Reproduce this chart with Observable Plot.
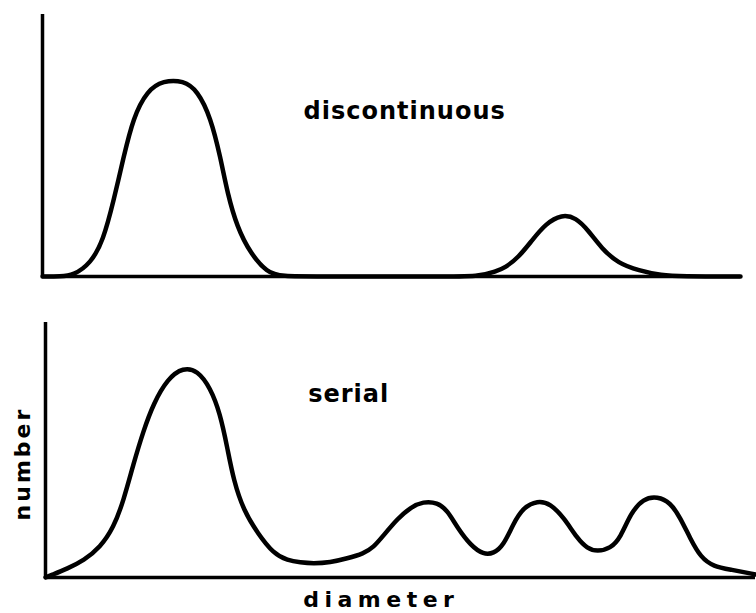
<!DOCTYPE html>
<html>
<head>
<meta charset="utf-8">
<script src="https://cdn.jsdelivr.net/npm/d3@7"></script>
<script src="https://cdn.jsdelivr.net/npm/@observablehq/plot@0.6"></script>
<style>
  html, body { margin: 0; padding: 0; background: #fff; }
  #chart { width: 756px; height: 613px; }
  #chart svg { display: block; }
</style>
</head>
<body>
<div id="chart"></div>
<script>
// Schematic size distributions (diameter and number in arbitrary units 0–100)
const discDiameter = [0, 2.6, 4.4, 6.9, 8.7, 10.2, 11.6, 13.0, 15.0, 17.3, 20.2, 22.2, 24.1, 25.5, 26.5, 27.9, 29.8, 32.2, 34.1,
  40, 48, 56, 62.8, 64.9, 66.3, 68.2, 70.1, 72.1, 74.4, 76.4, 78.2, 80.1, 82.5, 85.4, 88.7, 91.4, 100];
const discNumber = [0, 0, 0.4, 5.0, 13.7, 29.0, 45.4, 60.7, 71.0, 74.8, 74.8, 71.0, 60.7, 45.4, 31.7, 18.7, 8.8, 1.5, 0,
  0, 0, 0, 0, 1.9, 3.4, 7.3, 13.7, 20.2, 23.7, 22.5, 17.6, 10.7, 5.0, 2.3, 0.4, 0, 0];

const serialDiameter = [0, 0.7, 3.1, 5.4, 7.7, 9.6, 11.0, 12.4, 13.8, 15.2, 17.2, 19.4, 21.4, 23.2, 24.6, 25.6, 26.5, 27.9, 29.9,
  32.1, 34.1, 35.9, 37.7, 40.1, 42.5, 44.8, 46.2, 47.6, 49.6, 51.4, 53.2, 55.2, 56.6, 58.0, 59.9, 61.7, 63.1, 64.5, 65.9, 67.3,
  69.3, 71.1, 73.0, 74.9, 76.3, 77.7, 79.6, 81.0, 82.4, 84.2, 86.2, 88.0, 89.4, 90.8, 92.3, 94.1, 96.5, 100];
const serialNumber = [0, 0.8, 3.5, 6.7, 11.8, 19.6, 30.2, 44.7, 57.6, 68.2, 78.0, 82.4, 81.2, 74.5, 64.3, 51.0, 38.0, 26.3, 17.3,
  9.4, 6.7, 5.9, 5.5, 5.9, 7.5, 9.4, 11.8, 16.5, 23.1, 27.5, 29.8, 29.4, 26.3, 19.6, 12.5, 9.0, 9.4, 12.5, 21.2, 27.5,
  30.2, 29.0, 23.5, 15.3, 11.4, 10.2, 11.4, 15.7, 25.1, 31.0, 31.8, 29.4, 23.5, 15.3, 7.8, 4.3, 3.1, 1.2];

const panelLabels = ["discontinuous", "serial"];
const labelDiameter = [37.4, 37.0];
const labelNumber = [63, 71.8];
const xTitle = "diameter";
const yTitle = "number";

const font = "'DejaVu Sans', sans-serif";

const discData = discDiameter.map((d, i) => ({diameter: d, number: discNumber[i]}));
const serialData = serialDiameter.map((d, i) => ({diameter: d, number: serialNumber[i]}));

const topPlot = Plot.plot({
  width: 756,
  height: 300,
  marginTop: 14,
  marginBottom: 24,
  marginLeft: 42,
  marginRight: 16,
  x: {domain: [0, 100], axis: null},
  y: {domain: [0, 100], axis: null},
  style: {fontFamily: font, background: "#fff", overflow: "visible"},
  marks: [
    Plot.ruleX([0], {stroke: "#000", strokeWidth: 3.5}),
    Plot.ruleY([0], {stroke: "#000", strokeWidth: 3.5}),
    Plot.line(discData, {x: "diameter", y: "number", curve: "basis", stroke: "#000", strokeWidth: 4.5, strokeLinejoin: "round"}),
    Plot.text([panelLabels[0]], {x: [labelDiameter[0]], y: [labelNumber[0]], text: d => d, textAnchor: "start",
      fontSize: 24, fontWeight: "bold", fill: "#000", fontFamily: font})
  ]
});

const bottomPlot = Plot.plot({
  width: 756,
  height: 313,
  marginTop: 22,
  marginBottom: 36,
  marginLeft: 45,
  marginRight: 1,
  x: {domain: [0, 100], axis: null},
  y: {domain: [0, 100], axis: null},
  style: {fontFamily: font, background: "#fff", overflow: "visible"},
  marks: [
    Plot.ruleX([0], {stroke: "#000", strokeWidth: 3.5}),
    Plot.ruleY([0], {stroke: "#000", strokeWidth: 3.5}),
    Plot.line(serialData, {x: "diameter", y: "number", curve: "basis", stroke: "#000", strokeWidth: 4.5, strokeLinejoin: "round"}),
    Plot.text([panelLabels[1]], {x: [labelDiameter[1]], y: [labelNumber[1]], text: d => d, textAnchor: "start",
      fontSize: 24, fontWeight: "bold", fill: "#000", fontFamily: font}),
    Plot.text([yTitle], {frameAnchor: "left", textAnchor: "middle", y: [44.7], text: d => d, rotate: -90, dx: -23,
      fontSize: 22, fontWeight: "bold", fill: "#000", fontFamily: font}),
    Plot.text([xTitle], {frameAnchor: "bottom", textAnchor: "middle", x: [47.3], text: d => d, dy: 29,
      fontSize: 22, fontWeight: "bold", fill: "#000", fontFamily: font})
  ]
});

const chart = document.getElementById("chart");
chart.appendChild(topPlot);
chart.appendChild(bottomPlot);

const spacing = {"discontinuous": "1px", "serial": "1px", "diameter": "5.5px", "number": "3px"};
[topPlot, bottomPlot].forEach(svg => {
  d3.select(svg).selectAll("text").each(function() {
    const s = spacing[this.textContent];
    if (s) d3.select(this).attr("letter-spacing", s);
  });
});
</script>
</body>
</html>
